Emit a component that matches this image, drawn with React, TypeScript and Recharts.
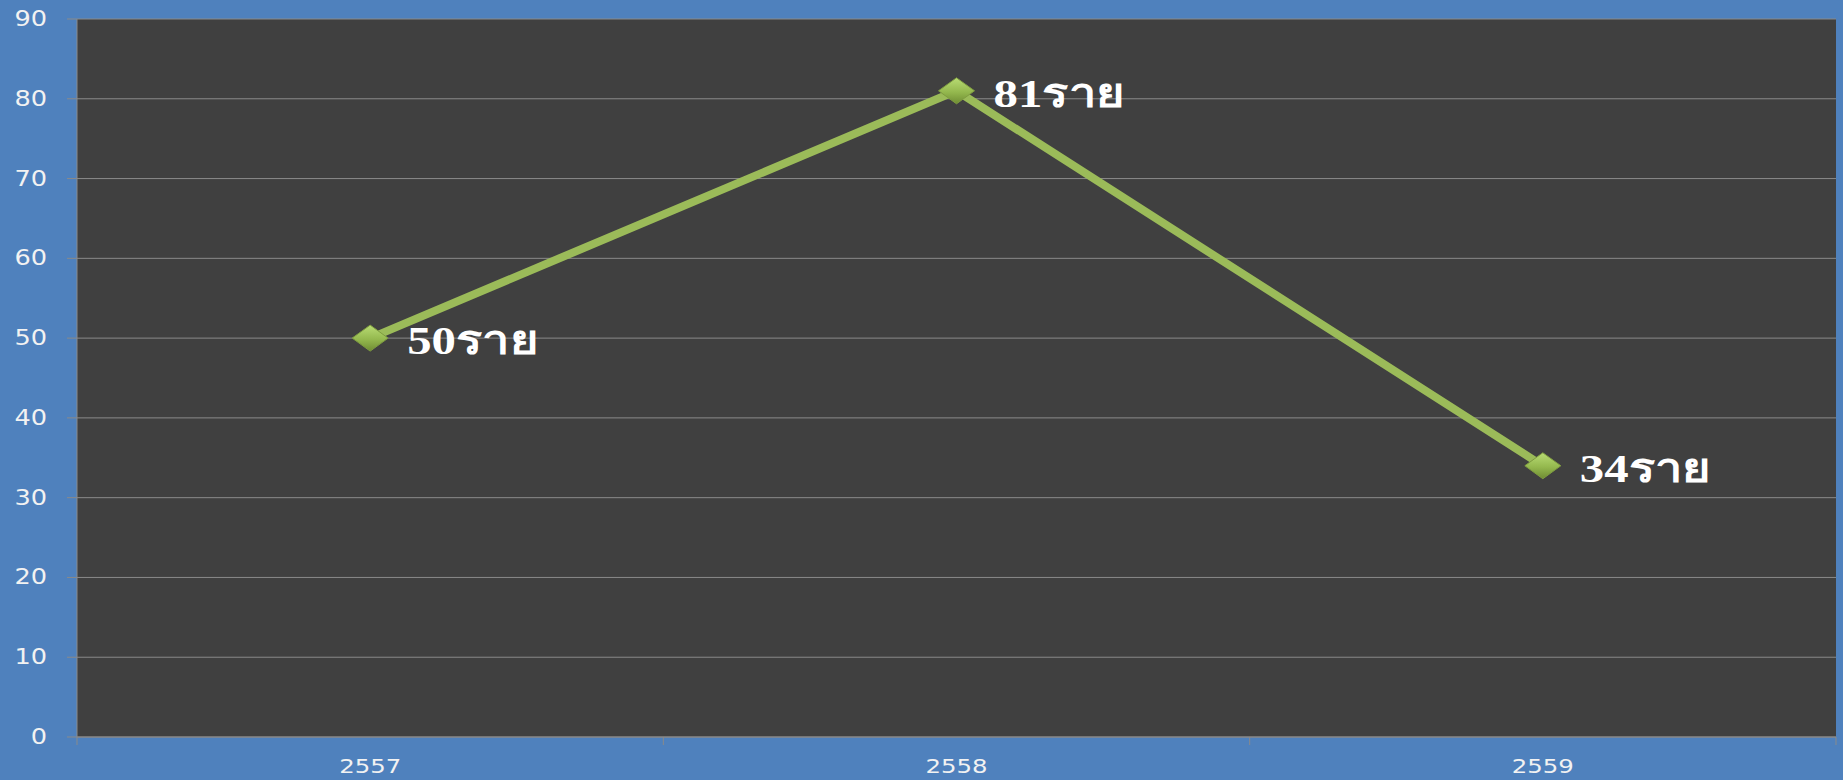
import { LineChart, Line, XAxis, YAxis, CartesianGrid, LabelList } from 'recharts'

const YEARS = ['2557', '2558', '2559']
const CASES = [50, 81, 34]
const UNIT = 'ราย'
const Y_TICKS = [0, 10, 20, 30, 40, 50, 60, 70, 80, 90]

const data = YEARS.map((year, i) => ({ year, cases: CASES[i] }))

const W = 1843
const H = 780
const PLOT_LEFT = 77
const PLOT_RIGHT = 7
const HALF_BAND = (W - PLOT_LEFT - PLOT_RIGHT) / YEARS.length / 2

const AXIS_GRAY = '#8a8a8a'
const TEXT = '#f2f2f2'
const STRETCH = 1.22

function XTick({ x, y, payload, index }: any) {
  const last = index === YEARS.length - 1
  return (
    <g>
      <line x1={x - HALF_BAND} x2={x - HALF_BAND} y1={y} y2={y + 8} stroke={AXIS_GRAY} />
      {last && <line x1={x + HALF_BAND} x2={x + HALF_BAND} y1={y} y2={y + 8} stroke={AXIS_GRAY} />}
      <text
        transform={`translate(${x},${y + 36}) scale(${STRETCH},1)`}
        textAnchor="middle"
        fill={TEXT}
        fontSize={20}
        fontFamily="DejaVu Sans, Verdana, sans-serif"
      >
        {payload.value}
      </text>
    </g>
  )
}

function YTick({ x, y, payload }: any) {
  return (
    <text
      transform={`translate(${x},${y + 7}) scale(${STRETCH},1)`}
      textAnchor="end"
      fill={TEXT}
      fontSize={21}
      fontFamily="DejaVu Sans, Verdana, sans-serif"
    >
      {payload.value}
    </text>
  )
}

function Diamond({ cx, cy, index }: any) {
  if (cx == null || cy == null) return null
  const hw = 18
  const hh = 13
  return (
    <polygon
      key={`d-${index}`}
      points={`${cx - hw},${cy} ${cx},${cy - hh} ${cx + hw},${cy} ${cx},${cy + hh}`}
      fill="url(#diamondFill)"
      stroke="#7e9c3f"
      strokeWidth={1}
    />
  )
}

function ValueLabel({ x, y, value }: any) {
  return (
    <text
      transform={`translate(${x + 37},${y + 16}) scale(${STRETCH},1)`}
      fill="#ffffff"
      fontSize={40}
      fontWeight="bold"
      fontFamily="Liberation Serif, DejaVu Serif, serif"
    >
      {`${value}${UNIT}`}
    </text>
  )
}

export default function App() {
  return (
    <div style={{ width: W, height: H, background: '#4f81bd', overflow: 'hidden' }}>
      <style>{`body{margin:0}`}</style>
      <LineChart
        width={W}
        height={H}
        data={data}
        margin={{ top: 19, right: PLOT_RIGHT, bottom: 0, left: 0 }}
      >
        <defs>
          <linearGradient id="diamondFill" x1="0" y1="0" x2="0" y2="1">
            <stop offset="0%" stopColor="#b9dc74" />
            <stop offset="55%" stopColor="#94b84e" />
            <stop offset="100%" stopColor="#6f8d33" />
          </linearGradient>
        </defs>
        <CartesianGrid vertical={false} fill="#404040" stroke={AXIS_GRAY} strokeWidth={1} />
        <XAxis
          dataKey="year"
          height={H - 737}
          padding={{ left: HALF_BAND, right: HALF_BAND }}
          axisLine={{ stroke: AXIS_GRAY }}
          tickLine={false}
          tickSize={0}
          tickMargin={0}
          tick={<XTick />}
          interval={0}
        />
        <YAxis
          width={PLOT_LEFT}
          domain={[0, 90]}
          ticks={Y_TICKS}
          axisLine={{ stroke: AXIS_GRAY }}
          tickLine={{ stroke: AXIS_GRAY }}
          tickSize={10}
          tickMargin={20}
          tick={<YTick />}
          interval={0}
        />
        <YAxis
          yAxisId="right"
          orientation="right"
          width={0}
          domain={[0, 90]}
          axisLine={{ stroke: AXIS_GRAY }}
          tick={false}
          tickLine={false}
        />
        <Line
          dataKey="cases"
          stroke="#9bbb59"
          strokeWidth={8}
          dot={(p: any) => <Diamond key={`dot-${p.index}`} {...p} />}
          activeDot={false}
          isAnimationActive={false}
        >
          <LabelList dataKey="cases" content={<ValueLabel />} />
        </Line>
      </LineChart>
    </div>
  )
}
